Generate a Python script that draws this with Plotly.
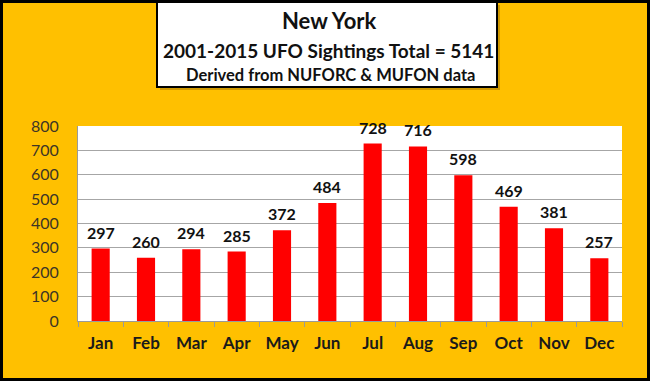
import plotly.graph_objects as go

months = ["Jan", "Feb", "Mar", "Apr", "May", "Jun", "Jul", "Aug", "Sep", "Oct", "Nov", "Dec"]
sightings = [297, 260, 294, 285, 372, 484, 728, 716, 598, 469, 381, 257]
y_ticks = [0, 100, 200, 300, 400, 500, 600, 700, 800]

W, H = 650, 381
L, R, T, B = 78, 28, 126, 60
pw, ph = W - L - R, H - T - B

def px(x):
    return (x - L) / pw

def py(y):
    return (H - B - y) / ph

FONT = "Lato"

fig = go.Figure()
fig.add_trace(go.Bar(
    x=months, y=sightings,
    marker=dict(color="#FF0000", line=dict(width=0)),
    hoverinfo="x+y",
))

label_annotations = [
    dict(x=m, y=v, xref="x", yref="y", text=f"<b>{v}</b>", showarrow=False,
         yanchor="bottom", yshift=5, font=dict(family=FONT, size=16, color="#111111"))
    for m, v in zip(months, sightings)
]

fig.update_layout(
    width=W, height=H,
    margin=dict(l=L, r=R, t=T, b=B, pad=0),
    paper_bgcolor="#FFC000",
    plot_bgcolor="#FFFFFF",
    showlegend=False,
    bargap=0.6,
    font=dict(family=FONT),
    xaxis=dict(
        showgrid=False, showline=True, linecolor="#9a9a9a", linewidth=1,
        ticks="outside", tickson="boundaries", ticklen=5, tickcolor="#9a9a9a",
        tickfont=dict(family=FONT, size=17, color="#1a1a1a", weight="bold"),
        ticklabelstandoff=7,
    ),
    yaxis=dict(
        range=[0, 800], tickvals=y_ticks, showgrid=True, gridcolor="#a6a6a6",
        gridwidth=1, showline=True, linecolor="#9a9a9a", linewidth=1,
        zeroline=False, ticks="",
        tickfont=dict(family=FONT, size=16, color="#3d3526"),
        ticklabelstandoff=15,
    ),
    shapes=[
        dict(type="rect", xref="paper", yref="paper",
             x0=px(160), x1=px(500), y0=py(90), y1=py(5),
             fillcolor="rgba(120,80,0,0.35)", line=dict(width=0), layer="above"),
        dict(type="rect", xref="paper", yref="paper",
             x0=px(157), x1=px(497), y0=py(87), y1=py(2),
             fillcolor="#FFFFFF", line=dict(color="#000000", width=2), layer="above"),
        dict(type="rect", xref="paper", yref="paper",
             x0=px(1.5), x1=px(648.5), y0=py(379.5), y1=py(1.5),
             fillcolor="rgba(0,0,0,0)", line=dict(color="#000000", width=3), layer="above"),
    ],
    annotations=[
        dict(text="<b>New York</b>", xref="paper", yref="paper", x=px(329), y=py(21),
             xanchor="center", yanchor="middle",
             showarrow=False, font=dict(family=FONT, size=22, color="#111111")),
        dict(text="<b>2001-2015 UFO Sightings Total = 5141</b>", xref="paper", yref="paper",
             x=px(328), y=py(50), xanchor="center", yanchor="middle",
             showarrow=False, font=dict(family=FONT, size=19, color="#111111")),
        dict(text="<b>Derived from NUFORC &amp; MUFON data</b>", xref="paper", yref="paper",
             x=px(330), y=py(75), xanchor="center", yanchor="middle",
             showarrow=False, font=dict(family=FONT, size=16.5, color="#111111")),
    ] + label_annotations,
)

fig.write_html("out.html", config={"displayModeBar": False},
               post_script="document.body.style.margin='0';document.body.style.padding='0';")
